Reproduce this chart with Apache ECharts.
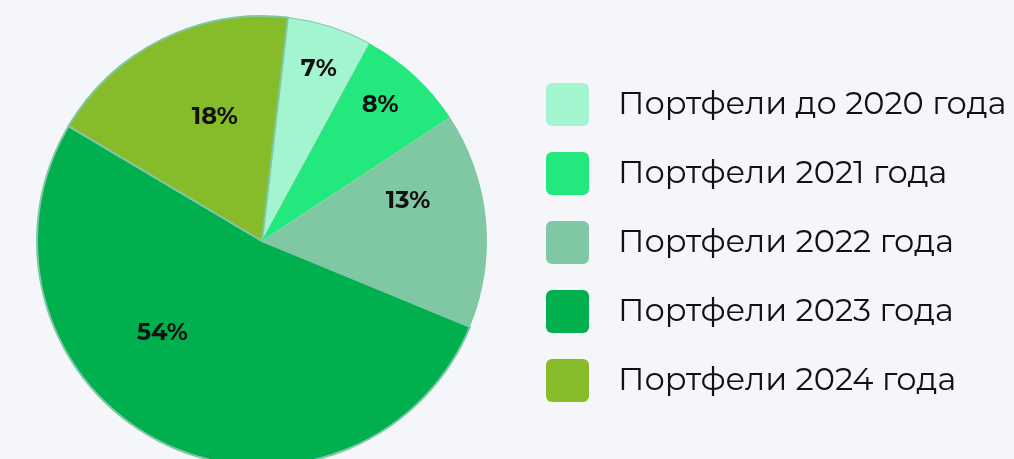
<!DOCTYPE html>
<html>
<head>
<meta charset="utf-8">
<script src="https://cdn.jsdelivr.net/npm/echarts@6/dist/echarts.min.js"></script>
<style>
html, body { margin: 0; padding: 0; background: #f5f6fa; }
#main { width: 1014px; height: 459px; }
</style>
</head>
<body>
<div id="main"></div>
<script>
// категории и доли портфелей (размер секторов)
var categories = ['Портфели до 2020 года', 'Портфели 2021 года', 'Портфели 2022 года', 'Портфели 2023 года', 'Портфели 2024 года'];
var shares = [6.1, 7.8, 15.5, 52.3, 18.3];
var labelsText = ['7%', '8%', '13%', '54%', '18%'];

var colors = ['#a3f5cf', '#22e87d', '#80c8a4', '#00b04f', '#86bb2a'];
// сдвиг подписей от стандартного положения inside
var labelOffsets = [[22, -62], [40, -51], [31, -29], [-48, -11], [4, -21]];
var borders = [1, 0, 0, 2, 2];

var fontFamily = 'Montserrat, "Open Sans", sans-serif';
var iconPath = 'path://M6,0H37A6,6,0,0,1,43,6V37A6,6,0,0,1,37,43H6A6,6,0,0,1,0,37V6A6,6,0,0,1,6,0Z';

var myChart = echarts.init(document.getElementById('main'));

var pieData = categories.map(function (name, i) {
  return {
    name: name,
    value: shares[i],
    itemStyle: { color: colors[i], borderColor: '#80c8a4', borderWidth: borders[i] },
    label: { offset: labelOffsets[i] }
  };
});

var option = {
  backgroundColor: '#f5f6fa',
  animation: false,
  legend: {
    orient: 'vertical',
    left: 546,
    top: 83,
    padding: 0,
    itemWidth: 43,
    itemHeight: 43,
    itemGap: 26,
    icon: iconPath,
    itemStyle: { borderWidth: 0 },
    data: categories,
    textStyle: {
      fontFamily: fontFamily,
      fontSize: 32,
      color: '#111',
      padding: [0, 0, 0, 24]
    }
  },
  series: [{
    type: 'pie',
    center: [262, 241],
    radius: 225,
    startAngle: 83.4,
    clockwise: true,
    data: pieData,
    label: {
      show: true,
      position: 'inside',
      color: '#111',
      fontFamily: fontFamily,
      fontWeight: 'bold',
      fontSize: 24,
      formatter: function (p) { return labelsText[p.dataIndex]; }
    },
    labelLine: { show: false },
    emphasis: { disabled: true }
  }]
};

myChart.setOption(option);
</script>
</body>
</html>
